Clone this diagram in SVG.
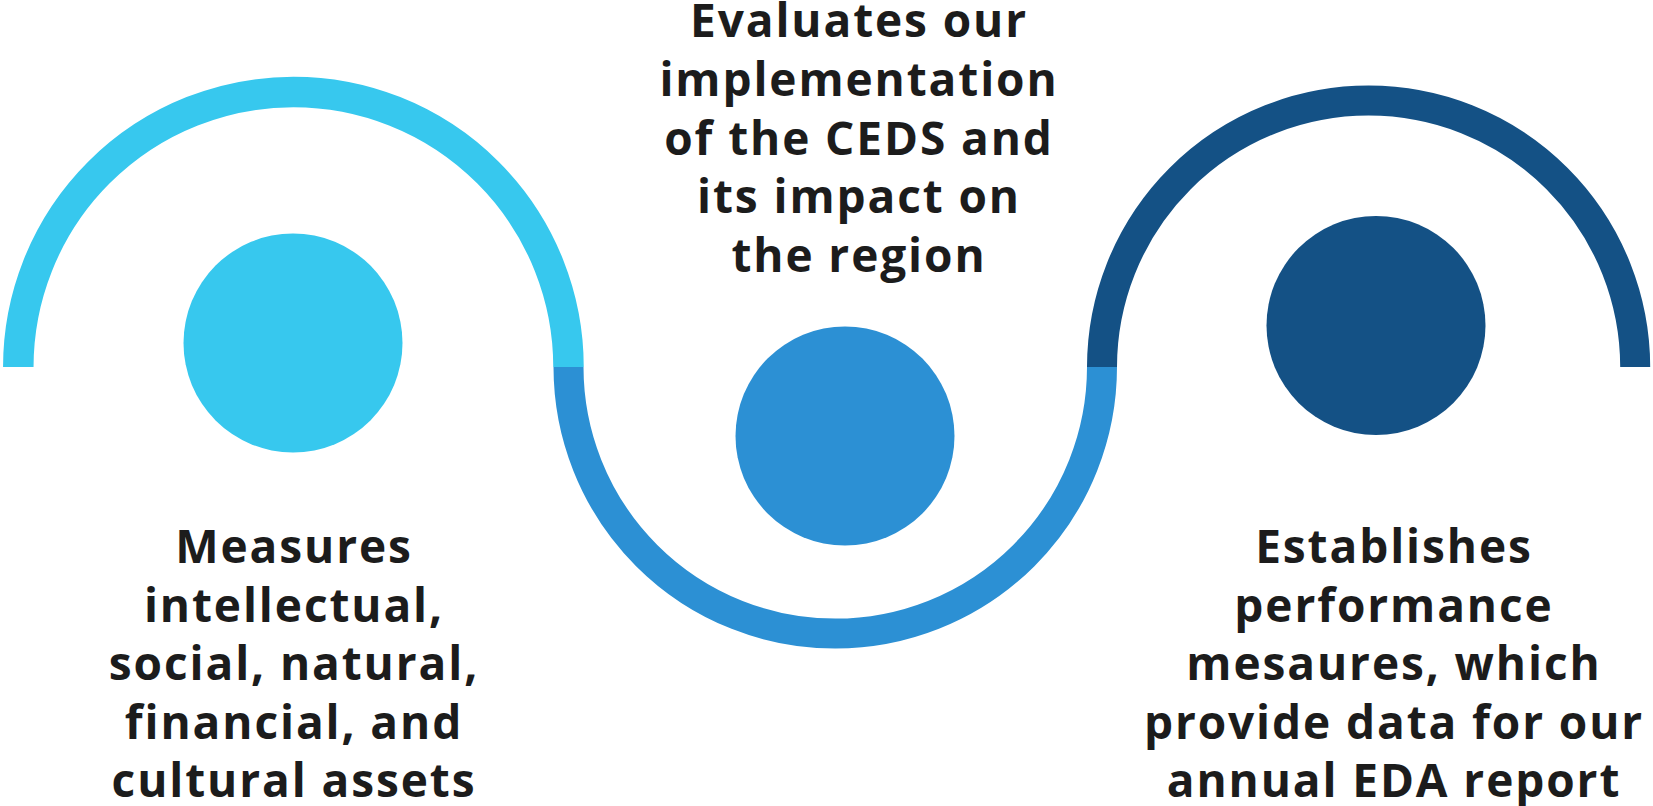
<svg xmlns="http://www.w3.org/2000/svg" width="1653" height="806" viewBox="0 0 1653 806">
<style>
.arc{fill:none;stroke-linecap:butt}
.lbl{font-family:"Open Sans","Noto Sans","Liberation Sans",sans-serif;font-weight:700;font-size:46px;letter-spacing:1.9px;fill:#1c1c1c;text-anchor:middle}
</style>
<rect width="1653" height="806" fill="#ffffff"/>
<g id="connectors">
<path class="arc" d="M18.3 367 A275.1 275.1 0 0 1 568.5 367" stroke="#37C8EE" stroke-width="30.5"/>
<path class="arc" d="M568.5 367 A266.75 266.75 0 0 0 1102 367" stroke="#2C90D4" stroke-width="30"/>
<path class="arc" d="M1102 367 A266.6 266.6 0 0 1 1635.2 367" stroke="#145185" stroke-width="30"/>
</g>
<g id="node-left">
<circle cx="293" cy="343" r="109.5" fill="#37C8EE"/>
<text class="lbl" x="294" y="563">Measures</text>
<text class="lbl" x="294" y="621.5">intellectual,</text>
<text class="lbl" x="294" y="680">social, natural,</text>
<text class="lbl" x="294" y="738.5">financial, and</text>
<text class="lbl" x="294" y="797">cultural assets</text>
</g>
<g id="node-middle">
<circle cx="845" cy="436" r="109.5" fill="#2C90D4"/>
<text class="lbl" x="859" y="37">Evaluates our</text>
<text class="lbl" x="859" y="95.75">implementation</text>
<text class="lbl" x="859" y="154.5">of the CEDS and</text>
<text class="lbl" x="859" y="213.25">its impact on</text>
<text class="lbl" x="859" y="272">the region</text>
</g>
<g id="node-right">
<circle cx="1376" cy="325.5" r="109.5" fill="#145185"/>
<text class="lbl" x="1394" y="563">Establishes</text>
<text class="lbl" x="1394" y="621.5">performance</text>
<text class="lbl" x="1394" y="680">mesaures, which</text>
<text class="lbl" x="1394" y="738.5">provide data for our</text>
<text class="lbl" x="1394" y="797">annual EDA report</text>
</g>
</svg>
